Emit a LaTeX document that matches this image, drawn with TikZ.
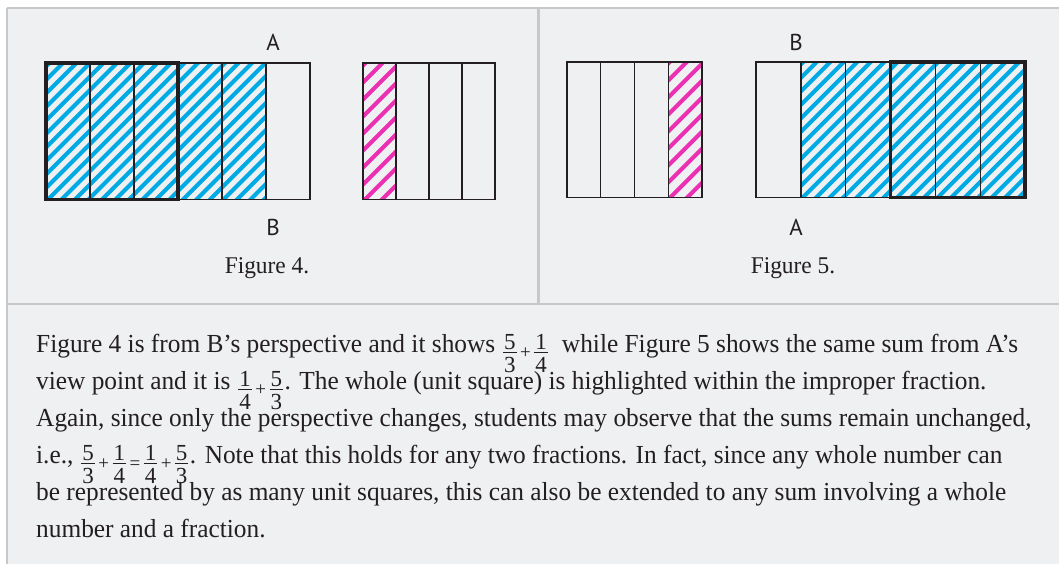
\documentclass[tikz,border=0pt]{standalone}
\usepackage{fontspec}
\setmainfont{Liberation Serif}[FakeStretch=0.975]
\newfontfamily\labelfont{PT Sans}
\newfontfamily\fracfont{Liberation Serif}
\definecolor{bg}{HTML}{EFF0F2}
\definecolor{rulegray}{HTML}{C8C8C8}
\definecolor{hatchblue}{RGB}{0,170,228}
\definecolor{hatchpink}{RGB}{236,48,178}
\definecolor{ink}{HTML}{231F20}
\newcommand\hatchfill[6]{%
  \begin{scope}
    \clip (#3,#4) rectangle (#5,#6);
    \foreach \k in {-12,...,24}
      \draw[#1, line width=4pt] ({#3+\k*#2},#6+2) -- ++(152,-152);
  \end{scope}}
% stacked fraction with its bar on the baseline
\newsavebox\fnumbox
\newsavebox\fdenbox
\newlength\fwid
\newcommand\fracx[2]{\begingroup\fracfont\fontsize{23}{23}\selectfont
  \sbox\fnumbox{#1}\sbox\fdenbox{#2}%
  \setlength\fwid{\wd\fnumbox}%
  \ifdim\wd\fdenbox>\fwid \setlength\fwid{\wd\fdenbox}\fi
  \addtolength\fwid{2pt}%
  \kern1.5pt
  \rlap{\raisebox{2.5pt}{\makebox[\fwid]{\usebox\fnumbox}}}%
  \rlap{\rule[-0.35pt]{\fwid}{0.7pt}}%
  \raisebox{-20pt}{\makebox[\fwid]{\usebox\fdenbox}}%
  \kern1.5pt
  \endgroup}
\newcommand\opx[1]{\kern2pt{\fracfont\fontsize{19}{19}\selectfont\raisebox{-6pt}{#1}}\kern2pt}
\tikzset{
  thinline/.style={draw=ink, line width=1.4pt},
  thickline/.style={draw=ink, line width=3.5pt},
  rulestyle/.style={draw=rulegray, line width=2.6pt},
  ablabel/.style={font=\labelfont\fontsize{23}{26}\selectfont, text=ink, inner sep=0},
  caption/.style={font=\fontsize{24}{28}\selectfont, text=ink, inner sep=0},
  bodyline/.style={font=\fontsize{26}{31}\selectfont, text=ink, inner sep=0, anchor=base west},
}
\begin{document}
\begin{tikzpicture}[x=1pt,y=-1pt]
\useasboundingbox (0,0) rectangle (1059,564);
\fill[white] (0,0) rectangle (1059,564);
\fill[bg] (7,8) rectangle (1059,564);
\draw[rulestyle] (7,8) -- (1059,8);
\draw[rulestyle] (7,8) -- (7,564);
\draw[rulestyle] (538.5,8) -- (538.5,304);
\draw[rulestyle] (7,304) -- (1059,304);

% ---------- Figure 4 ----------
\hatchfill{hatchblue}{13.5}{46}{63}{266}{199.5}
\draw[thinline] (46,63) rectangle (310,199.5);
\foreach \x in {90,134,178,222,266} \draw[thinline] (\x,63) -- (\x,199.5);
\draw[thickline] (46,63) rectangle (178,199.5);

\hatchfill{hatchpink}{17}{363}{63}{396}{199.5}
\draw[thinline] (363,63) rectangle (495,199.5);
\foreach \x in {396,429,462} \draw[thinline] (\x,63) -- (\x,199.5);

\node[ablabel] (a4) at (273,42) {A};
\node[ablabel] (b4) at (273,227) {B};
\node[caption] (cap4) at (267,268) {Figure 4.};

% ---------- Figure 5 ----------
\hatchfill{hatchpink}{17}{668.25}{62}{702}{197.5}
\draw[thinline] (567,62) rectangle (702,197.5);
\foreach \x in {600.75,634.5,668.25} \draw[thinline] (\x,62) -- (\x,197.5);

\hatchfill{hatchblue}{13.5}{800.8}{62}{1025}{197.5}
\draw[thinline] (756,62) rectangle (1025,197.5);
\foreach \x in {800.8,845.7,890.5,935.3,980.2} \draw[thinline] (\x,62) -- (\x,197.5);
\draw[thickline] (890.5,62) rectangle (1025,197.5);

\node[ablabel] (b5) at (796,42) {B};
\node[ablabel] (a5) at (796,227) {A};
\node[caption] (cap5) at (793,268) {Figure 5.};

% ---------- Text ----------
\node[bodyline] (l1) at (36,352) {Figure 4 is from B’s perspective and it shows \fracx{5}{3}\opx{+}\fracx{1}{4}\ \ while Figure 5 shows the same sum from A’s};
\node[bodyline] (l2) at (36,389) {view point and it is \fracx{1}{4}\opx{+}\fracx{5}{3}. The whole (unit square) is highlighted within the improper fraction.};
\node[bodyline] (l3) at (36,426) {Again, since only the perspective changes, students may observe that the sums remain unchanged,};
\node[bodyline] (l4) at (36,463) {i.e., \fracx{5}{3}\opx{+}\fracx{1}{4}\opx{=}\fracx{1}{4}\opx{+}\fracx{5}{3}. Note that this holds for any two fractions. In fact, since any whole number can};
\node[bodyline] (l5) at (36,500) {be represented by as many unit squares, this can also be extended to any sum involving a whole};
\node[bodyline] (l6) at (36,537) {number and a fraction.};
\end{tikzpicture}
\end{document}
